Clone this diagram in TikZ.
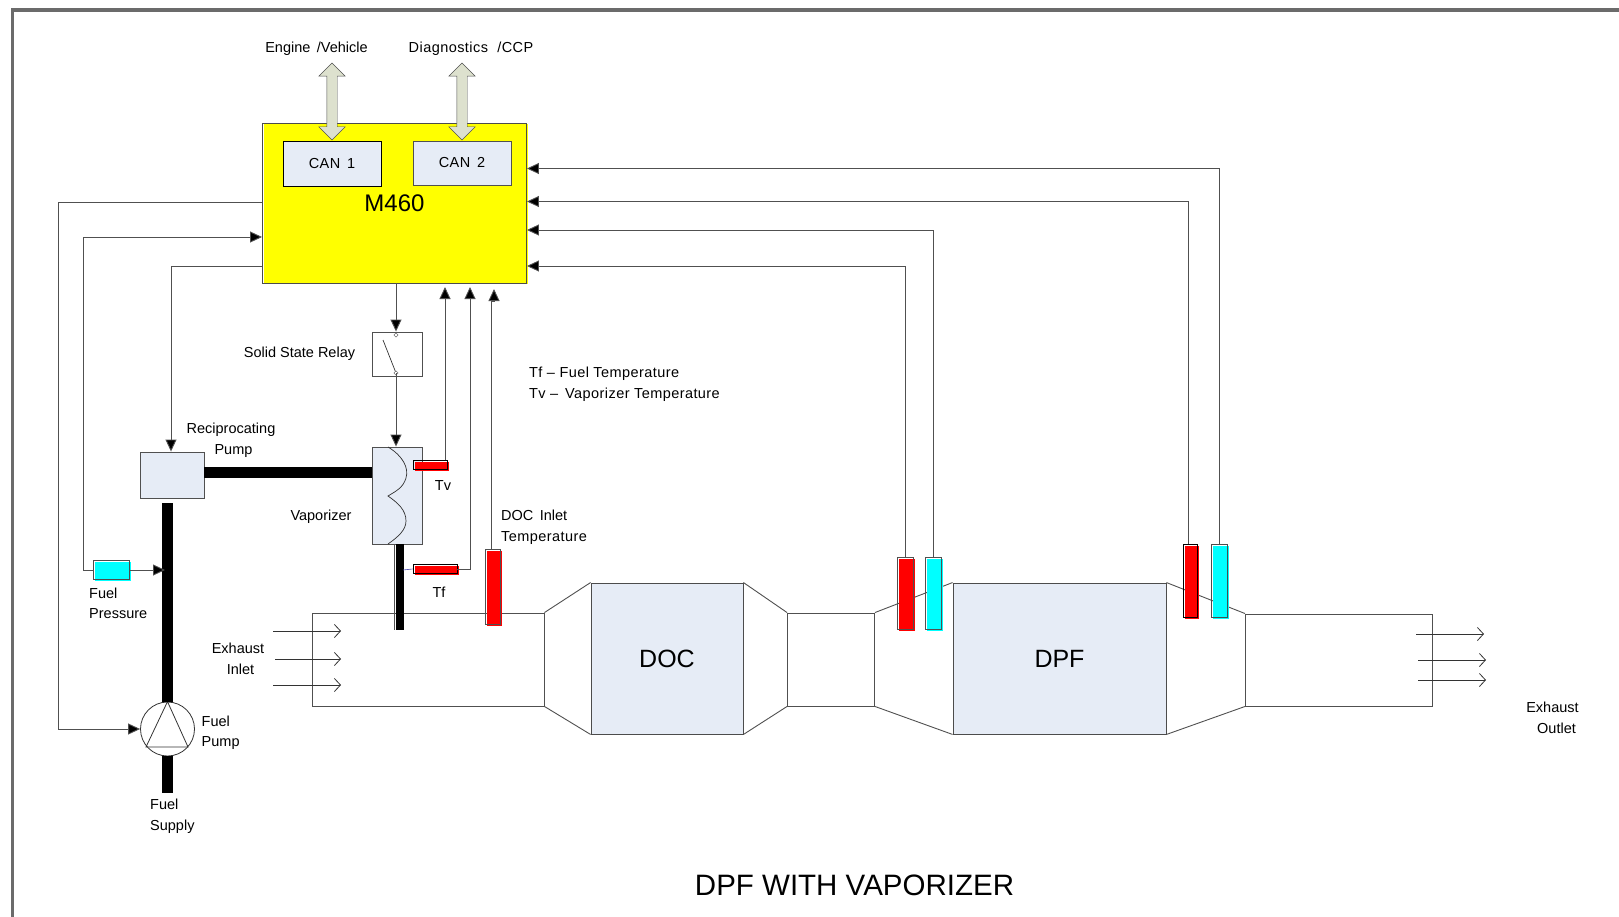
\documentclass[tikz,border=0pt]{standalone}
\usepackage{fontspec}
\setmainfont{Liberation Sans}
\newfontfamily\widefont[LetterSpace=3]{Liberation Sans}
\usetikzlibrary{arrows.meta,shapes.arrows,shapes.geometric}
\definecolor{panel}{HTML}{E6ECF6}
\definecolor{linegray}{HTML}{505050}
\definecolor{framegray}{HTML}{6B6B6B}
\definecolor{busfill}{HTML}{DDE1CE}
\definecolor{ecuyellow}{RGB}{255,255,0}
\definecolor{probered}{RGB}{255,0,0}
\definecolor{probecyan}{RGB}{0,255,255}

\begin{document}
\begin{tikzpicture}[x=1pt,y=-1pt,font=\fontsize{14.5}{17}\selectfont]
    \tikzstyle{box} = [rectangle, draw=linegray, inner sep=0pt, line width=0.9pt]
    \tikzstyle{unit} = [box, fill=panel]
    \tikzstyle{probe} = [box, draw=black, preaction={fill=#1, transform canvas={shift={(1.5pt,-1.5pt)}}}]
    \tikzstyle{sig} = [draw=linegray, line width=0.9pt, -{Triangle[length=12pt,width=11pt,fill=black]}]
    \tikzstyle{wire} = [draw=linegray, line width=0.9pt]
    \tikzstyle{fuel} = [line width=11pt, draw=black]
    \tikzstyle{flow} = [draw=black!80, line width=0.8pt, -{Straight Barb[length=6pt,width=13pt]}]
    \tikzstyle{duct} = [draw=linegray, line width=0.9pt]
    \tikzstyle{bus} = [double arrow, draw=linegray, fill=busfill, rotate=90, inner sep=0pt,
        minimum height=77pt, text height=10pt, text depth=0pt, double arrow head extend=8pt]
    \tikzstyle{txt} = [inner sep=0pt, text height=11pt, text depth=3pt]
    \tikzstyle{lbl} = [txt, anchor=west]
    \useasboundingbox (0,0) rectangle (1619,917);
    % frame
    \draw[framegray, line width=3.8pt] (12.5,917) -- (12.5,10.3) -- (1619,10.3);

    % controller
    \node[box, draw=black!70, preaction={fill=ecuyellow, transform canvas={shift={(1.5pt,-1.5pt)}}},
        minimum width=264pt, minimum height=160pt] (ecu) at (394.5,203) {};
    \node[unit, draw=black, minimum width=98pt, minimum height=45pt] (cana) at (332,163.5) {\widefont CAN\, 1};
    \node[unit, minimum width=98pt, minimum height=44pt] (canb) at (462,163) {\widefont CAN\, 2};
    \node[inner sep=0pt] (ecuname) at (394.5,203) {\fontsize{24}{28}\selectfont M460};
    \node[bus] (busa) at (332,101.5) {};
    \node[bus] (busb) at (462,101.5) {};
    \node[txt] (busalbl) at (316.5,48.5) {Engine\, /Vehicle};
    \node[txt] (busblbl) at (471,48.5) {\widefont Diagnostics\,\, /CCP};

    % duct
    \node[box, minimum width=232pt, minimum height=93pt] (inlet) at (428,659.5) {};
    \node[unit, draw=black!70, minimum width=152pt, minimum height=151pt] (doc) at (667,658.5) {\fontsize{25}{30}\selectfont DOC};
    \node[box, minimum width=87pt, minimum height=93pt] (mid) at (831,659.5) {};
    \node[unit, draw=black!70, minimum width=213pt, minimum height=151pt] (dpf) at (1059.5,658.5) {\fontsize{25}{30}\selectfont DPF};
    \node[box, minimum width=187pt, minimum height=92pt] (outlet) at (1339,660) {};
    \draw[duct] (inlet.north east) -- (doc.north west);
    \draw[duct] (inlet.south east) -- (doc.south west);
    \draw[duct] (doc.north east) -- (mid.north west);
    \draw[duct] (doc.south east) -- (mid.south west);
    \draw[duct] (mid.north east) -- (dpf.north west);
    \draw[duct] (mid.south east) -- (dpf.south west);
    \draw[duct] (dpf.north east) -- (outlet.north west);
    \draw[duct] (dpf.south east) -- (outlet.south west);

    % exhaust flow
    \foreach \i/\ya/\xa in {a/631/273, b/659/275, c/685/273} {
        \coordinate (in\i s) at (\xa,\ya);
        \coordinate (in\i e) at (341,\ya);
        \draw[flow] (in\i s) -- (in\i e);
    }
    \foreach \i/\ya/\xa in {a/634/1416, b/660/1418, c/680/1418} {
        \coordinate (out\i s) at (\xa,\ya);
        \coordinate (out\i e) at (\xa+68,\ya);
        \draw[flow] (out\i s) -- (out\i e);
    }

    % pumps and vaporizer
    \node[unit, minimum width=64pt, minimum height=46pt] (rpump) at (172,475) {};
    \node[circle, draw=black!80, inner sep=0pt, minimum size=54pt, line width=0.8pt] (fpump) at (167.5,729) {};
    \draw[draw=black!80, line width=0.8pt] (fpump.90) -- (146,747) -- (188,747) -- cycle;
    \node[unit, minimum width=50pt, minimum height=97pt] (vap) at (397,495.5) {};
    \draw[draw=black!80, line width=0.7pt] (388,447) .. controls (403,456) and (409,468) .. (406,478)
        .. controls (403,488) and (396,491) .. (388,496)
        .. controls (398,503) and (406,510) .. (406,521)
        .. controls (406,530) and (398,537) .. (388,544);
    \node[box, minimum width=50pt, minimum height=44pt] (relay) at (397,354) {};
    \coordinate (relaya) at (396,335);
    \coordinate (relayb) at (396,373);
    \draw[draw=black!80, line width=0.7pt] (383,340) -- (relayb);
    \node[diamond, draw=black!70, fill=white, inner sep=0pt, minimum size=4.5pt] (relayat) at (relaya) {};
    \node[diamond, draw=black!70, fill=white, inner sep=0pt, minimum size=4.5pt] (relaybt) at (relayb) {};

    % fuel lines
    \coordinate (feedtop) at (167.5,503);
    \coordinate (supply) at (167.5,793);
    \coordinate (pipeend) at (400,630);
    \coordinate (vapfeed) at (204,472);
    \draw[fuel] (vapfeed) -- (vap.west |- vapfeed);
    \draw[fuel] (feedtop) -- (feedtop |- fpump.north);
    \draw[fuel] (fpump.south) -- (supply);
    \draw[fuel, line width=8pt] (vap.south -| pipeend) -- (pipeend);
    \draw[draw=linegray, line width=0.7pt] (394,544) -- (394,630);

    % sensors
    \node[probe=probered, minimum width=34pt, minimum height=9pt] (tv) at (430,465) {};
    \node[probe=probered, minimum width=44pt, minimum height=9pt] (tf) at (435,569) {};
    \node[probe=probered, draw=linegray, minimum width=15pt, minimum height=75pt] (tdoc) at (492.5,586.5) {};
    \node[probe=probecyan, draw=black!70, minimum width=36pt, minimum height=19pt] (pfuel) at (111,570) {};
    \node[probe=probered, draw=linegray, minimum width=16pt, minimum height=72pt] (tdpfa) at (905,593) {};
    \node[probe=probecyan, draw=linegray, minimum width=16pt, minimum height=72pt] (tdpfb) at (933,593) {};
    \node[probe=probered, minimum width=14pt, minimum height=73pt] (tdpfc) at (1190,580.5) {};
    \node[probe=probecyan, draw=black!70, minimum width=16pt, minimum height=73pt] (tdpfd) at (1219,580.5) {};

    % signal lines
    \coordinate (pfa) at (58,729);
    \coordinate (ecuc) at (83,237);
    \coordinate (ecud) at (171,266);
    \draw[wire] (ecu.west |- 0,202) -| (pfa);
    \draw[sig] (pfa) -- (fpump.west);
    \draw[sig] (pfuel.west) -| (ecuc) -- (ecu.west |- ecuc);
    \draw[sig] (pfuel.east) -- (165,570);
    \draw[sig] (ecu.west |- ecud) -- (ecud) -- (ecud |- rpump.north);
    \draw[sig] (ecu.south -| relaya) -- (relaya |- relay.north);
    \draw[sig] (relayb) -- (relayb |- vap.north);
    \draw[sig] (tv.north -| 445,0) -- (445,287);
    \draw[sig] (tf.east) -| (470,287);
    \draw[sig] (tdoc.north -| 491,0) -- (491,301) -- (494,301) -- (494,289);
    \draw[sig] (tdpfa.north) |- (ecu.east |- 0,266);
    \draw[sig] (tdpfb.north) |- (ecu.east |- 0,230);
    \draw[sig] (tdpfc.north -| 1188.5,0) |- (ecu.east |- 0,201.5);
    \draw[sig] (tdpfd.north) |- (ecu.east |- 0,168.5);
    \draw[draw=blue!40!gray, line width=0.6pt] (403,570) -- (tf.west);

    % labels
    \node[txt] (relaylbl) at (299.5,353) {Solid State Relay};
    \node[txt] (rpumplbla) at (231,429) {Reciprocating};
    \node[txt] (rpumplblb) at (233.5,450) {Pump};
    \node[txt] (vaplbl) at (321,516) {Vaporizer};
    \node[txt] (tvlbl) at (443,486) {Tv};
    \node[txt] (tflbl) at (439,593) {Tf};
    \node[lbl] (notea) at (529,373) {\widefont Tf – Fuel Temperature};
    \node[lbl] (noteb) at (529,394) {\widefont Tv –\, Vaporizer Temperature};
    \node[lbl] (tdoclbla) at (501,516) {DOC\, Inlet};
    \node[lbl] (tdoclblb) at (501,537) {\widefont Temperature};
    \node[lbl] (pfuellbla) at (89,594) {Fuel};
    \node[lbl] (pfuellblb) at (89,614) {Pressure};
    \node[txt] (inletlbla) at (238,649) {Exhaust};
    \node[txt] (inletlblb) at (240.5,670) {Inlet};
    \node[lbl] (fpumplbla) at (201.5,722) {Fuel};
    \node[lbl] (fpumplblb) at (201.5,742) {Pump};
    \node[lbl] (supplylbla) at (150,805) {Fuel};
    \node[lbl] (supplylblb) at (150,826) {Supply};
    \node[txt] (outletlbla) at (1552.5,708) {Exhaust};
    \node[txt] (outletlblb) at (1556.5,729) {Outlet};
    \node[inner sep=0pt] (title) at (854.5,885) {\fontsize{29.5}{34}\selectfont DPF WITH VAPORIZER};
\end{tikzpicture}
\end{document}
